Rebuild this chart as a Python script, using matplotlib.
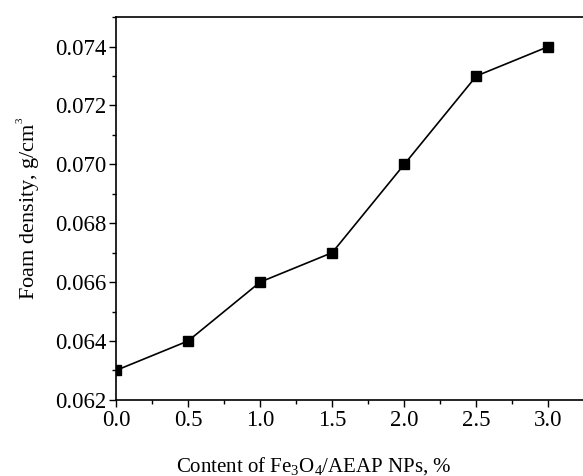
import matplotlib
matplotlib.use('Agg')
import matplotlib.pyplot as plt
from matplotlib.ticker import MultipleLocator

plt.rcParams['font.family'] = ['Liberation Serif', 'DejaVu Serif']
plt.rcParams['mathtext.fontset'] = 'custom'
plt.rcParams['mathtext.rm'] = 'Liberation Serif'
plt.rcParams['mathtext.it'] = 'Liberation Serif:italic'

content = [0.0, 0.5, 1.0, 1.5, 2.0, 2.5, 3.0]
density = [0.063, 0.064, 0.066, 0.067, 0.070, 0.073, 0.074]
yticks = [0.062, 0.064, 0.066, 0.068, 0.070, 0.072, 0.074]

fig = plt.figure(figsize=(5.83, 4.76), dpi=100)
ax = fig.add_axes([0.199, 0.160, 0.801, 0.804])

ax.plot(content, density, color='black', lw=1.2, marker='s', ms=6.5)

ax.set_xlim(0, 3.24)
ax.set_ylim(0.062, 0.075)
ax.xaxis.set_major_locator(MultipleLocator(0.5))
ax.xaxis.set_minor_locator(MultipleLocator(0.25))
ax.yaxis.set_minor_locator(MultipleLocator(0.001))
ax.set_yticks(yticks)
ax.set_yticklabels(['%.3f' % v for v in yticks])
ax.tick_params(which='both', direction='out', labelsize=16.5, width=1)
ax.tick_params(which='major', length=5, pad=2)
ax.tick_params(which='minor', length=3)
ax.spines['right'].set_visible(False)
for s in ['left', 'bottom', 'top']:
    ax.spines[s].set_linewidth(1.2)

ax.set_xlabel('Content of Fe$_3$O$_4$/AEAP NPs, %', fontsize=15)
ax.xaxis.set_label_coords(0.424, -0.145)
ax.set_ylabel('Foam density, g/cm$^{^{3}}$', fontsize=16)
ax.yaxis.set_label_coords(-0.157, 0.5)

fig.savefig('out.png', dpi=100)
